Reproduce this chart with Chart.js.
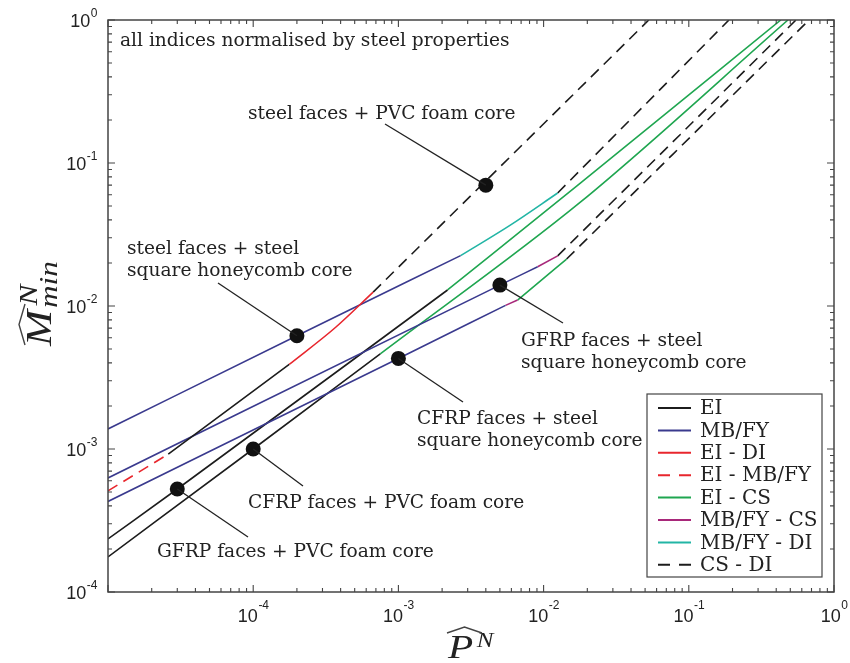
<!DOCTYPE html>
<html>
<head>
<meta charset="utf-8">
<script src="https://cdn.jsdelivr.net/npm/chart.js@4.4.1/dist/chart.umd.min.js"></script>
<style>
  html, body { margin: 0; padding: 0; background: #fff; }
  #wrap { width: 850px; height: 663px; position: relative; }
</style>
</head>
<body>
<div id="wrap"><canvas id="chart"></canvas></div>
<script>
// failure regimes shown in the legend
var regimes = ['EI', 'MB/FY', 'EI - DI', 'EI - MB/FY', 'EI - CS', 'MB/FY - CS', 'MB/FY - DI', 'CS - DI'];
var regimeColors = ['#1c1c1c', '#3a3a8e', '#e8262d', '#e8262d', '#1fa650', '#a8287a', '#22b5a5', '#1c1c1c'];
var regimeDashed = [false, false, false, true, false, false, false, true];

// one curve per design: P values, M values, regime of each segment
var steelPvcP = [1e-5, 2.6e-5, 1.77e-4, 3.7e-4, 6.7e-4, 0.053];
var steelPvcM = [5.1e-4, 9.2e-4, 3.9e-3, 7.1e-3, 0.0125, 1];
var steelPvcSeg = [3, 0, 2, 2, 7];

var steelHcP = [1e-5, 2e-4, 2.68e-3, 5.9e-3, 0.0125, 0.189];
var steelHcM = [1.38e-3, 6.2e-3, 0.0225, 0.0368, 0.0617, 1];
var steelHcSeg = [1, 1, 6, 6, 7];

var gfrpHcP = [1e-5, 5e-3, 9.1e-3, 0.0125, 0.547];
var gfrpHcM = [6.27e-4, 0.014, 0.0188, 0.0224, 1];
var gfrpHcSeg = [1, 1, 5, 7];

var cfrpHcP = [1e-5, 1e-3, 5.47e-3, 6.62e-3, 0.0144, 0.673];
var cfrpHcM = [4.3e-4, 4.3e-3, 0.0101, 0.011, 0.0213, 1];
var cfrpHcSeg = [1, 1, 5, 4, 7];

var cfrpPvcP = [1e-5, 1e-4, 7.5e-4, 0.018, 0.482];
var cfrpPvcM = [1.76e-4, 1e-3, 4.62e-3, 0.0534, 1];
var cfrpPvcSeg = [0, 0, 4, 4];

var gfrpPvcP = [1e-5, 3e-5, 2.18e-3, 0.018, 0.43];
var gfrpPvcM = [2.35e-4, 5.25e-4, 0.01294, 0.0725, 1];
var gfrpPvcSeg = [0, 0, 4, 4];

// marked designs (same order as the notes below)
var markerP = [4e-3, 2e-4, 5e-3, 1e-3, 1e-4, 3e-5];
var markerM = [0.07, 6.2e-3, 0.014, 4.3e-3, 1e-3, 5.25e-4];
var markerNames = [
  ['steel faces + PVC foam core'],
  ['steel faces + steel', 'square honeycomb core'],
  ['GFRP faces + steel', 'square honeycomb core'],
  ['CFRP faces + steel', 'square honeycomb core'],
  ['CFRP faces + PVC foam core'],
  ['GFRP faces + PVC foam core']
];

var xTickExp = [-5, -4, -3, -2, -1, 0];
var yTickExp = [-4, -3, -2, -1, 0];

// split a curve into datasets, one per run of the same regime
function curveDatasets(P, M, seg) {
  var out = [];
  var i = 0;
  while (i < seg.length) {
    var r = seg[i];
    var pts = [{x: P[i], y: M[i]}];
    while (i < seg.length && seg[i] === r) {
      pts.push({x: P[i + 1], y: M[i + 1]});
      i++;
    }
    out.push({
      data: pts,
      borderColor: regimeColors[r],
      borderWidth: 1.6,
      borderDash: regimeDashed[r] ? [11, 7] : [],
      pointRadius: 0,
      cubicInterpolationMode: 'monotone',
      fill: false
    });
  }
  return out;
}

var markerData = markerP.map(function(p, i) { return {x: p, y: markerM[i]}; });

var datasets = [{
  type: 'scatter',
  data: markerData,
  pointRadius: 7.5,
  pointBackgroundColor: '#111',
  pointBorderWidth: 0,
  order: -1
}];
datasets = datasets
  .concat(curveDatasets(steelPvcP, steelPvcM, steelPvcSeg))
  .concat(curveDatasets(steelHcP, steelHcM, steelHcSeg))
  .concat(curveDatasets(gfrpHcP, gfrpHcM, gfrpHcSeg))
  .concat(curveDatasets(cfrpHcP, cfrpHcM, cfrpHcSeg))
  .concat(curveDatasets(cfrpPvcP, cfrpPvcM, cfrpPvcSeg))
  .concat(curveDatasets(gfrpPvcP, gfrpPvcM, gfrpPvcSeg));

// where the text of each note sits, and where its leader line ends
var notePos = [
  {x: 248, y: 119, lx: 385, ly: 124},
  {x: 127, y: 254, lx: 218, ly: 283},
  {x: 521, y: 346, lx: 563, ly: 323},
  {x: 417, y: 424, lx: 463, ly: 402},
  {x: 248, y: 508, lx: 303, ly: 486},
  {x: 157, y: 557, lx: 248, ly: 537}
];

var serif = "'DejaVu Serif', serif";
var sans = "'Liberation Sans', Arial, sans-serif";
var mathFont = "'Liberation Serif', 'Times New Roman', serif";

function hat(ctx, x0, x1, yb, h) {
  ctx.beginPath();
  ctx.moveTo(x0, yb);
  ctx.quadraticCurveTo(x0 + (x1 - x0) * 0.3, yb - h * 0.6, (x0 + x1) / 2, yb - h);
  ctx.quadraticCurveTo(x0 + (x1 - x0) * 0.7, yb - h * 0.6, x1, yb);
  ctx.stroke();
}

var decor = {
  id: 'decor',
  afterDatasetsDraw: function(chart) {
    var ctx = chart.ctx;
    var xs = chart.scales.x, ys = chart.scales.y;
    var a = chart.chartArea;
    ctx.save();

    // leader lines
    ctx.strokeStyle = '#222';
    ctx.lineWidth = 1.3;
    markerP.forEach(function(p, i) {
      ctx.beginPath();
      ctx.moveTo(xs.getPixelForValue(p), ys.getPixelForValue(markerM[i]));
      ctx.lineTo(notePos[i].lx, notePos[i].ly);
      ctx.stroke();
    });

    // frame
    ctx.strokeStyle = '#444';
    ctx.lineWidth = 1.5;
    ctx.strokeRect(a.left, a.top, a.right - a.left, a.bottom - a.top);

    // ticks, inward on all four sides
    ctx.lineWidth = 1.1;
    ctx.beginPath();
    xTickExp.forEach(function(k) {
      for (var m = 1; m <= 9; m++) {
        var v = m * Math.pow(10, k);
        if (v > 1.0000001) continue;
        var px = xs.getPixelForValue(v);
        var len = m === 1 ? 7 : 4;
        ctx.moveTo(px, a.bottom); ctx.lineTo(px, a.bottom - len);
        ctx.moveTo(px, a.top); ctx.lineTo(px, a.top + len);
      }
    });
    yTickExp.forEach(function(k) {
      for (var m = 1; m <= 9; m++) {
        var v = m * Math.pow(10, k);
        if (v > 1.0000001) continue;
        var py = ys.getPixelForValue(v);
        var len = m === 1 ? 7 : 4;
        ctx.moveTo(a.left, py); ctx.lineTo(a.left + len, py);
        ctx.moveTo(a.right, py); ctx.lineTo(a.right - len, py);
      }
    });
    ctx.stroke();

    // tick labels 10^k
    ctx.fillStyle = '#222';
    ctx.textBaseline = 'alphabetic';
    ctx.textAlign = 'left';
    xTickExp.forEach(function(k) {
      if (k === -5) return;
      var px = xs.getPixelForValue(Math.pow(10, k));
      var e = k === 0 ? '0' : '-' + (-k);
      ctx.font = '18px ' + sans;
      var w1 = ctx.measureText('10').width;
      ctx.font = '12px ' + sans;
      var w2 = ctx.measureText(e).width;
      var x0 = px - (w1 + w2) / 2;
      ctx.font = '18px ' + sans;
      ctx.fillText('10', x0, a.bottom + 30);
      ctx.font = '12px ' + sans;
      ctx.fillText(e, x0 + w1 + 0.5, a.bottom + 17);
    });
    yTickExp.forEach(function(k) {
      var py = ys.getPixelForValue(Math.pow(10, k));
      var e = k === 0 ? '0' : '-' + (-k);
      ctx.font = '12px ' + sans;
      var w2 = ctx.measureText(e).width;
      ctx.font = '18px ' + sans;
      var w1 = ctx.measureText('10').width;
      var x0 = a.left - 11 - w2 - w1;
      ctx.fillText('10', x0, py + 7);
      ctx.font = '12px ' + sans;
      ctx.fillText(e, x0 + w1 + 0.5, py - 3);
    });

    // x axis title: P hat ^N
    ctx.save();
    ctx.translate(448, 658);
    ctx.scale(1.25, 1);
    ctx.font = 'italic 33px ' + mathFont;
    ctx.fillText('P', 0, 0);
    ctx.font = 'italic 20px ' + mathFont;
    ctx.fillText('N', 23, -11);
    ctx.restore();
    ctx.lineWidth = 1.4;
    hat(ctx, 447, 482, 633, 6);

    // y axis title: M hat ^N _min (rotated)
    ctx.save();
    ctx.translate(51, 346);
    ctx.rotate(-Math.PI / 2);
    ctx.lineWidth = 1.4;
    ctx.font = 'italic 36px ' + mathFont;
    var wm = ctx.measureText('M').width * 1.2;
    hat(ctx, 1, wm + 6, -26, 6);
    ctx.scale(1.2, 1);
    ctx.fillText('M', 0, 0);
    ctx.restore();
    ctx.save();
    ctx.translate(51, 346 - wm - 2);
    ctx.rotate(-Math.PI / 2);
    ctx.scale(1.25, 1);
    ctx.font = 'italic 25px ' + mathFont;
    ctx.fillText('N', 2, -14);
    ctx.fillText('min', 0, 6);
    ctx.restore();

    // notes
    ctx.font = '18.6px ' + serif;
    ctx.fillStyle = '#222';
    ctx.fillText('all indices normalised by steel properties', 120, 46);
    markerNames.forEach(function(lines, i) {
      lines.forEach(function(t, j) {
        ctx.fillText(t, notePos[i].x, notePos[i].y + j * 22);
      });
    });

    // legend box
    var lx = 647, ly = 394, lw = 175, lh = 183;
    ctx.fillStyle = '#fff';
    ctx.fillRect(lx, ly, lw, lh);
    ctx.strokeStyle = '#444';
    ctx.lineWidth = 1.2;
    ctx.strokeRect(lx, ly, lw, lh);
    ctx.textBaseline = 'middle';
    regimes.forEach(function(name, i) {
      var y = 408 + i * 22.4;
      ctx.strokeStyle = regimeColors[i];
      ctx.lineWidth = 2;
      ctx.setLineDash(regimeDashed[i] ? [12, 9] : []);
      ctx.beginPath();
      ctx.moveTo(658, y);
      ctx.lineTo(691, y);
      ctx.stroke();
      ctx.setLineDash([]);
      ctx.fillStyle = '#222';
      ctx.font = '20px ' + serif;
      ctx.fillText(name, 700, y + 1);
    });

    ctx.restore();
  }
};

new Chart(document.getElementById('chart'), {
  type: 'line',
  data: { datasets: datasets },
  options: {
    responsive: true,
    maintainAspectRatio: false,
    animation: false,
    layout: { padding: { left: 108, top: 20, right: 16, bottom: 71 } },
    plugins: {
      legend: { display: false },
      tooltip: { enabled: false }
    },
    scales: {
      x: { type: 'logarithmic', min: 1e-5, max: 1, display: false },
      y: { type: 'logarithmic', min: 1e-4, max: 1, display: false }
    }
  },
  plugins: [decor]
});
</script>
</body>
</html>
